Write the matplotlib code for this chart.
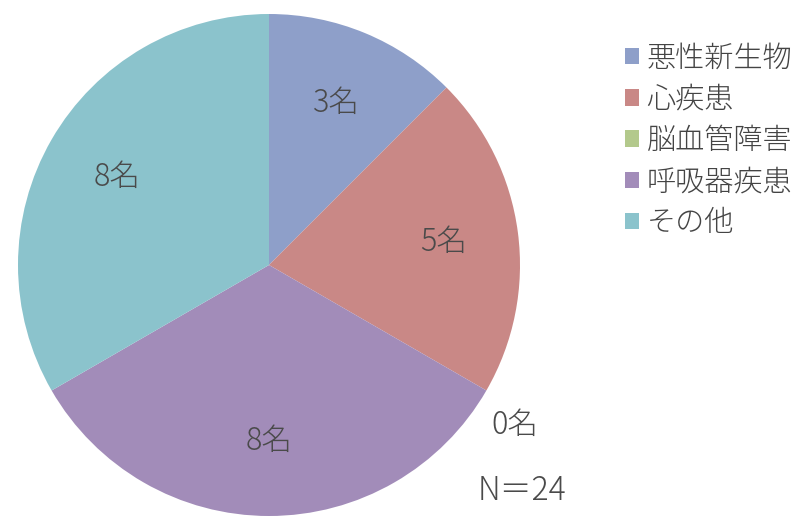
import numpy as np
import matplotlib.pyplot as plt

plt.rcParams['font.family'] = ['Noto Sans CJK JP', 'DejaVu Sans']

categories = ['悪性新生物', '心疾患', '脳血管障害', '呼吸器疾患', 'その他']
counts = [3, 5, 0, 8, 8]
colors = ['#8e9fc9', '#c98886', '#b3c98c', '#a28cb9', '#8bc3cc']
total = sum(counts)

fig = plt.figure(figsize=(8, 5.18), dpi=100)
ax = fig.add_axes([18 / 800, 2 / 518, 502 / 800, 502 / 518])

wedges, _ = ax.pie(counts, colors=colors, startangle=90, counterclock=False,
                   wedgeprops=dict(linewidth=0))
ax.set_xlim(-1, 1)
ax.set_ylim(-1, 1)
ax.set_aspect('equal')

# count labels at the middle of each slice; the empty slice sits outside
for w, n in zip(wedges, counts):
    ang = np.deg2rad((w.theta1 + w.theta2) / 2)
    r = 0.7 if n > 0 else 1.17
    if n == 0:
        ang = np.deg2rad(w.theta1 - 3)
    ax.text(r * np.cos(ang), r * np.sin(ang), f'{n}名', ha='center', va='center',
            fontsize=22, color='#4a4a4a', fontweight='light')

leg = fig.legend(wedges, categories, loc='upper left', bbox_to_anchor=(0.748, 0.968),
                 frameon=False, handlelength=0.5, handleheight=0.5,
                 handletextpad=0.25, labelspacing=0.37, labelcolor='#444444',
                 prop=dict(size=21, weight='light'))

fig.text(0.597, 0.052, f'N＝{total}', fontsize=23, color='#4a4a4a', ha='left',
         va='center', fontweight='light')

fig.savefig('out.png', dpi=100)
